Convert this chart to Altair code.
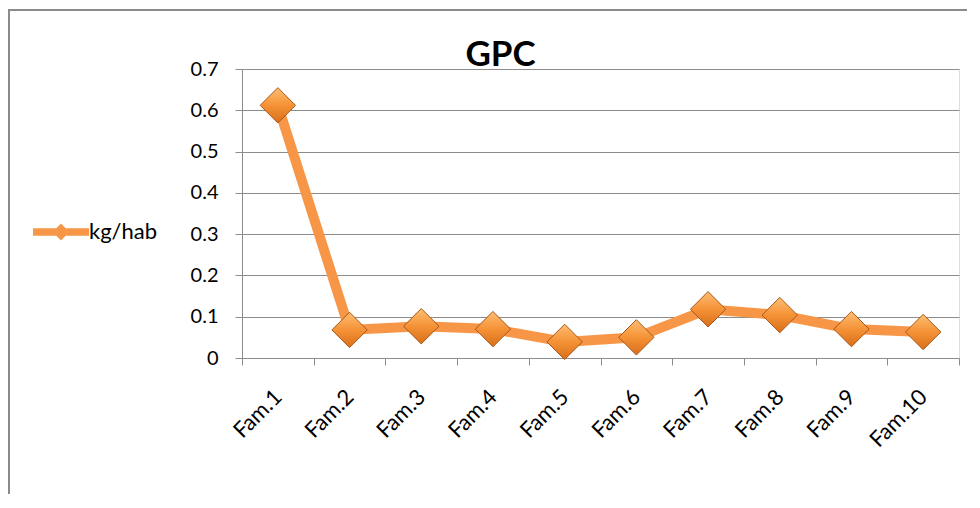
import altair as alt
import pandas as pd

categories = ["Fam.1", "Fam.2", "Fam.3", "Fam.4", "Fam.5", "Fam.6", "Fam.7", "Fam.8", "Fam.9", "Fam.10"]
values = [0.612, 0.068, 0.077, 0.070, 0.039, 0.050, 0.118, 0.104, 0.070, 0.063]
series_name = "kg/hab"
y_ticks = [0, 0.1, 0.2, 0.3, 0.4, 0.5, 0.6, 0.7]

df = pd.DataFrame({"cat": categories, "val": values, "series": [series_name] * len(categories)})

FONT = "Lato"
ORANGE = "#F79646"
GRID = "#8C8C8C"

x_enc = alt.X("cat:N", sort=categories, title=None,
              scale=alt.Scale(type="band", paddingInner=0, paddingOuter=0),
              axis=alt.Axis(labelAngle=-45, labelAlign="right", labelBaseline="middle",
                            labelPadding=28, labelFontSize=22, labelFont=FONT, labelColor="#000",
                            tickBand="extent", tickSize=7, tickColor=GRID, domainColor=GRID,
                            grid=False, labelOffset=0))
y_enc = alt.Y("val:Q", title=None,
              scale=alt.Scale(domain=[0, 0.7], nice=False),
              axis=alt.Axis(values=y_ticks, labelFontSize=20, labelFont=FONT, labelColor="#000",
                            labelExpr="datum.value == 0 ? '0' : format(datum.value, '.1f')",
                            tickSize=7, tickColor=GRID, domainColor=GRID, gridColor=GRID,
                            labelPadding=17, grid=True))

path_sym = "M-1,-0.13L1,-0.13L1,0.13L-1,0.13Z M-0.3,0L0,-0.3L0.3,0L0,0.3Z"

line = alt.Chart(df).mark_line(strokeWidth=10, clip=False).encode(
    x=x_enc, y=y_enc,
    color=alt.Color("series:N", scale=alt.Scale(range=[ORANGE]),
                    legend=alt.Legend(title=None, orient="none", legendX=-209, legendY=135,
                                      symbolType=path_sym, symbolSize=3136,
                                      symbolFillColor=ORANGE, symbolStrokeWidth=0,
                                      labelFontSize=22, labelFont=FONT, labelColor="#000",
                                      labelOffset=0))
)

grad = alt.LinearGradient(gradient="linear", x1=0, y1=0, x2=0, y2=1,
                          stops=[alt.GradientStop(color="#FDBE73", offset=0),
                                 alt.GradientStop(color="#F59236", offset=0.5),
                                 alt.GradientStop(color="#D86F1B", offset=1)])
points = alt.Chart(df).mark_point(shape="diamond", filled=True, size=1250, fill=grad,
                                  stroke="#A9561A", strokeWidth=1, opacity=1, clip=False).encode(
    x=x_enc, y=y_enc
)

border = alt.Chart(df).mark_rect(filled=False, stroke="#8A8A8A", strokeWidth=2, clip=False).encode(
    x=alt.value(-233), x2=alt.value(900), y=alt.value(-59), y2=alt.value(600)
)

chart = alt.layer(border, line, points).properties(
    width=717, height=289,
    title=alt.TitleParams("GPC", fontSize=35, font=FONT, fontWeight="bold", color="#000",
                          anchor="middle", frame="group", dx=-100, offset=2, dy=66),
    autosize=alt.AutoSizeParams(type="none"),
    padding={"left": 234, "top": 61, "right": 8, "bottom": 136},
).configure_view(stroke=None).configure(background="white")

chart.save("out.html", embed_options={"renderer": "svg", "actions": False})
